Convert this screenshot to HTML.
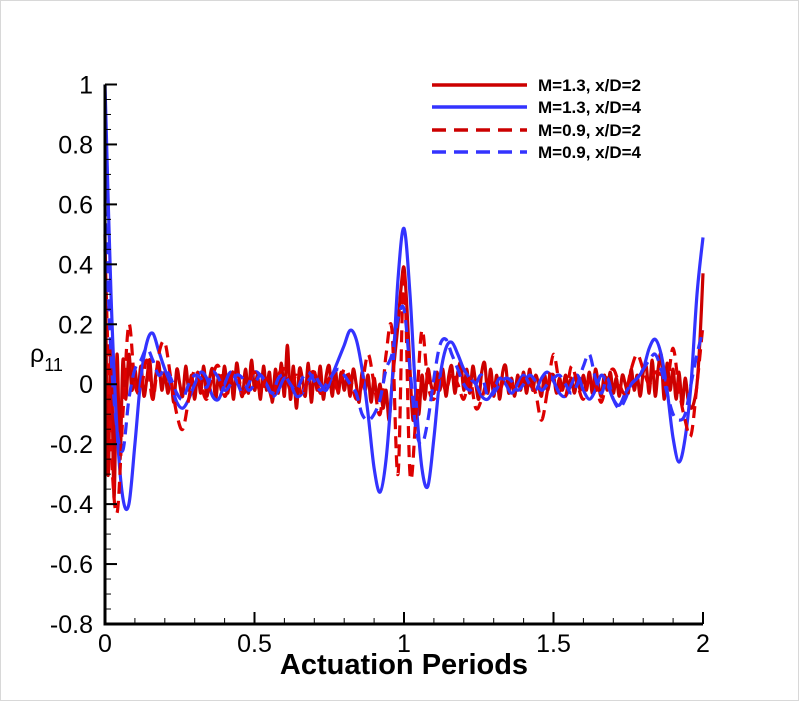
<!DOCTYPE html>
<html><head><meta charset="utf-8"><style>
body{margin:0;background:#fff;}
svg{display:block;}
text{font-family:"Liberation Sans",sans-serif;}
</style></head><body>
<svg id="chart" width="799" height="703" viewBox="0 0 799 703" xmlns="http://www.w3.org/2000/svg">
<rect x="0.5" y="0.5" width="798" height="700" fill="#fff" stroke="#d8d8d8"/>
<g id="series"></g>
<g id="axes"></g>
<text x="404" y="674" text-anchor="middle" font-size="29" font-weight="bold">Actuation Periods</text>
<text x="30" y="362" font-size="25">ρ<tspan font-size="18" dy="9">11</tspan></text>
<g>
<line x1="432" y1="85" x2="527" y2="85" stroke="#cc0000" stroke-width="3.5"/>
<text x="538" y="91" font-size="17" font-weight="bold">M=1.3, x/D=2</text>
<line x1="432" y1="107" x2="527" y2="107" stroke="#3333ff" stroke-width="3.5"/>
<text x="538" y="113" font-size="17" font-weight="bold">M=1.3, x/D=4</text>
<line x1="432" y1="130" x2="527" y2="130" stroke="#cc0000" stroke-width="3.5" stroke-dasharray="14,8"/>
<text x="538" y="136" font-size="17" font-weight="bold">M=0.9, x/D=2</text>
<line x1="432" y1="152" x2="527" y2="152" stroke="#3333ff" stroke-width="3.5" stroke-dasharray="14,8"/>
<text x="538" y="158" font-size="17" font-weight="bold">M=0.9, x/D=4</text>
</g>
</svg>
<script>
const xTickLabels=["0","0.5","1","1.5","2"];
const xTickValues=[0,0.5,1,1.5,2];
const yTickValues=[1,0.8,0.6,0.4,0.2,0,-0.2,-0.4,-0.6,-0.8];
const yTickLabels=["1","0.8","0.6","0.4","0.2","0","-0.2","-0.4","-0.6","-0.8"];
const redSolidStep=0.01;
const redSolid=[0.5,-0.3,0.15,-0.38,0.1,-0.25,0.08,-0.05,0.1,-0.02,0.05,
-0.03,0.06,-0.04,0.02,0.08,-0.05,0.03,0.07,-0.02,0.04,
-0.03,0.02,-0.06,0.05,0.0,-0.04,0.06,-0.02,0.03,-0.05,
0.04,-0.03,0.06,-0.04,0.02,0.05,-0.05,0.03,-0.02,0.06,
-0.03,0.04,-0.05,0.07,0.0,-0.04,0.05,-0.03,0.08,-0.02,
0.03,-0.05,0.06,-0.02,0.04,-0.06,0.05,-0.03,0.07,-0.04,
0.13,-0.05,0.06,-0.08,0.05,0.02,-0.04,0.07,-0.06,0.04,
-0.02,0.06,-0.05,0.03,0.06,-0.04,0.05,-0.03,0.04,-0.02,
0.03,-0.04,0.05,0.0,-0.06,0.04,-0.02,0.03,-0.06,0.02,
-0.05,0.0,-0.08,-0.02,-0.12,0.0,0.1,0.2,0.32,0.39,
0.25,0.05,-0.12,-0.02,-0.1,0.03,-0.05,0.05,0.0,-0.03,
0.04,-0.02,0.05,-0.04,0.03,0.06,-0.03,0.04,0.07,-0.02,
0.05,-0.03,0.06,0.0,-0.05,0.04,0.07,-0.03,0.05,-0.04,
0.03,-0.05,0.04,0.06,-0.03,0.02,-0.04,0.03,-0.02,0.04,
-0.03,0.05,-0.02,0.03,0.0,-0.04,0.03,-0.02,0.02,0.03,
-0.03,0.02,-0.02,0.03,-0.01,0.02,-0.03,0.02,-0.02,0.03,
-0.02,0.04,-0.03,0.05,0.0,-0.04,0.03,-0.02,0.04,-0.03,
0.02,-0.04,0.03,0.0,-0.03,0.05,-0.02,0.03,-0.04,0.04,
0.06,-0.03,0.08,-0.04,0.05,0.1,-0.05,0.07,-0.02,0.05,
-0.05,0.04,-0.07,0.02,-0.05,-0.08,-0.06,0.0,0.15,0.37];
const coarseStep=0.02;
const blueSolid=[1.0,0.3,-0.15,-0.38,-0.4,-0.2,0.02,0.14,0.17,0.11,0.05,0.0,-0.06,-0.08,-0.05,0.0,0.04,0.02,-0.04,-0.05,0.0,0.04,0.01,-0.03,0.0,0.04,0.03,0.0,-0.04,-0.02,0.02,0.0,-0.04,-0.03,0.01,0.03,0.0,-0.02,0.03,0.08,0.13,0.18,0.15,0.05,-0.1,-0.28,-0.36,-0.25,0.0,0.35,0.52,0.3,-0.05,-0.28,-0.34,-0.18,0.02,0.12,0.14,0.1,0.05,0.02,0.0,-0.04,-0.05,-0.02,0.02,0.0,-0.03,0.0,0.03,0.0,-0.02,0.02,0.04,0.01,-0.03,-0.04,0.0,0.03,-0.02,-0.05,-0.02,0.03,0.0,-0.05,-0.07,-0.03,0.0,0.02,0.05,0.12,0.15,0.1,-0.02,-0.18,-0.26,-0.18,0.0,0.3,0.49];
const redDashed=[0.45,-0.2,-0.43,-0.1,0.2,0.0,-0.02,0.08,-0.05,0.1,0.14,0.02,-0.1,-0.15,-0.05,0.05,0.0,-0.05,0.03,0.06,-0.04,0.02,0.05,-0.03,0.0,0.04,-0.03,0.02,-0.05,0.03,0.05,-0.02,0.03,-0.04,0.02,0.04,-0.03,0.0,0.03,-0.02,0.05,0.02,-0.05,0.0,0.1,0.0,-0.1,0.1,0.18,-0.3,0.38,-0.3,-0.1,0.18,0.0,-0.05,0.03,-0.02,0.04,0.0,-0.05,0.02,-0.08,-0.05,0.02,0.0,-0.02,0.03,0.0,-0.02,0.02,0.0,-0.03,-0.12,-0.02,0.1,0.0,-0.04,0.06,0.0,-0.05,0.02,0.0,-0.06,0.02,0.05,0.0,-0.03,0.05,0.1,0.05,0.0,0.04,0.03,0.0,0.12,-0.02,-0.12,-0.17,0.0,0.2];
const blueDashed=[0.6,0.1,-0.15,-0.22,-0.05,0.05,0.08,0.12,0.08,0.03,0.05,0.02,-0.03,-0.05,0.0,0.03,0.02,-0.01,0.04,0.02,-0.02,0.0,0.03,0.02,-0.02,0.0,0.03,0.0,-0.03,0.02,0.03,0.0,-0.02,0.02,0.04,0.01,-0.02,0.0,0.03,0.05,0.03,0.0,-0.03,-0.1,-0.12,-0.1,-0.05,0.05,0.1,0.22,0.25,0.05,-0.15,-0.2,-0.12,0.02,0.13,0.15,0.1,0.05,0.0,-0.02,0.0,0.03,-0.04,-0.03,0.0,0.02,0.01,-0.02,0.0,0.03,0.01,-0.02,0.0,0.02,0.03,0.0,-0.03,0.0,0.06,0.1,0.02,-0.03,0.02,-0.05,-0.08,-0.05,0.0,0.02,0.05,0.08,0.1,0.05,-0.03,-0.1,-0.12,-0.1,0.0,0.1,0.18];

const NS="http://www.w3.org/2000/svg";
const X0=105,X1=703,Y0=624,Y1=84.5;
function xs(v){return X0+(v-0)/(2-0)*(X1-X0);}
function ys(v){return Y0-(v-(-0.8))/(1-(-0.8))*(Y0-Y1);}
function mk(tag,attrs,parent){const e=document.createElementNS(NS,tag);for(const k in attrs)e.setAttribute(k,attrs[k]);parent.appendChild(e);return e;}

const sg=document.getElementById('series');
function smoothPath(P){
  let d='M'+P[0][0].toFixed(1)+','+P[0][1].toFixed(1);
  for(let i=0;i<P.length-1;i++){
    const p0=P[Math.max(0,i-1)],p1=P[i],p2=P[i+1],p3=P[Math.min(P.length-1,i+2)];
    const c1x=p1[0]+(p2[0]-p0[0])/6,c1y=p1[1]+(p2[1]-p0[1])/6;
    const c2x=p2[0]-(p3[0]-p1[0])/6,c2y=p2[1]-(p3[1]-p1[1])/6;
    d+=' C'+c1x.toFixed(1)+','+c1y.toFixed(1)+' '+c2x.toFixed(1)+','+c2y.toFixed(1)+' '+p2[0].toFixed(1)+','+p2[1].toFixed(1);
  }
  return d;
}
function drawSeries(vals,step,color,dash,name){
  const P=vals.map((v,i)=>[xs(i*step),ys(v)]);
  const p=mk('path',{d:smoothPath(P),fill:'none',stroke:color,'stroke-width':3.2,'stroke-linejoin':'round'},sg);
  if(dash)p.setAttribute('stroke-dasharray',dash);
  
  
}
drawSeries(redSolid,redSolidStep,'#cc0000',null,'series-m13-xd2');
drawSeries(blueSolid,coarseStep,'#3333ff',null,'series-m13-xd4');
drawSeries(redDashed,coarseStep,'#dd0000','12,7','series-m09-xd2');
drawSeries(blueDashed,coarseStep,'#3333ff','12,7','series-m09-xd4');

const ag=document.getElementById('axes');
const la=mk('line',{x1:X0,y1:Y0,x2:X0,y2:Y1,stroke:'#000','stroke-width':3},ag);


const ba=mk('line',{x1:X0-1.5,y1:Y0,x2:X1,y2:Y0,stroke:'#000','stroke-width':3},ag);


for(let v=0.1;v<2;v+=0.1){
  const l=mk('line',{x1:xs(v),y1:Y0,x2:xs(v),y2:Y0-6,stroke:'#000','stroke-width':1},ag);
  
  
}
xTickValues.forEach((v,i)=>{
  const l=mk('line',{x1:xs(v),y1:Y0,x2:xs(v),y2:Y0-12,stroke:'#000','stroke-width':2},ag);
  
  
  const t=mk('text',{x:xs(v),y:Y0+28,'text-anchor':'middle','font-size':25},ag);
  t.textContent=xTickLabels[i];
  
  
});
for(let k=0;k<=36;k++){
  const v=-0.8+k*0.05;
  const l=mk('line',{x1:X0,y1:ys(v),x2:X0+6,y2:ys(v),stroke:'#000','stroke-width':1},ag);
  
  
}
yTickValues.forEach((v,i)=>{
  const l=mk('line',{x1:X0,y1:ys(v),x2:X0+12,y2:ys(v),stroke:'#000','stroke-width':2},ag);
  
  
  const t=mk('text',{x:X0-12,y:ys(v)+9,'text-anchor':'end','font-size':25},ag);
  t.textContent=yTickLabels[i];
  
  
});
</script>
</body></html>
